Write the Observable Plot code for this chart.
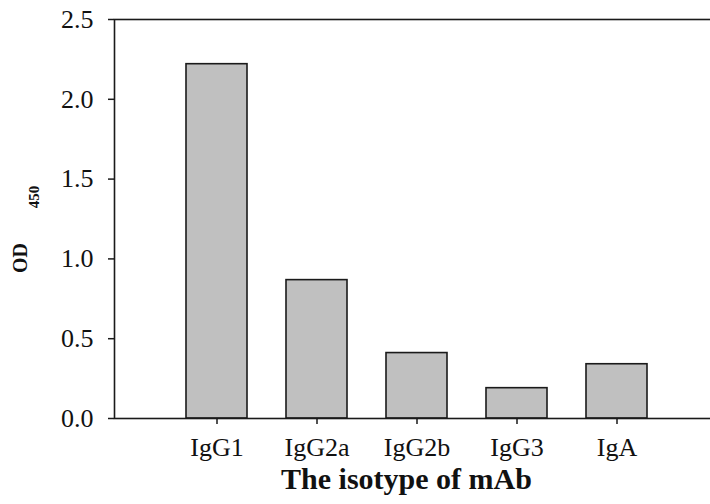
<!DOCTYPE html>
<html>
<head>
<meta charset="utf-8">
<script src="https://cdn.jsdelivr.net/npm/d3@7"></script>
<script src="https://cdn.jsdelivr.net/npm/@observablehq/plot@0.6"></script>
<style>
  html, body { margin: 0; padding: 0; background: #fff; overflow: hidden; }
  #chart svg { overflow: hidden; display: block; }
</style>
</head>
<body>
<div id="chart"></div>
<script>
const isotypes = ["IgG1", "IgG2a", "IgG2b", "IgG3", "IgA"];
const od450 = [2.22, 0.867, 0.41, 0.19, 0.34];
const yTicks = [0, 0.5, 1.0, 1.5, 2.0, 2.5];
const xTitle = "The isotype of mAb";
const yTitleMain = "OD";
const yTitleSub = "450";

const data = isotypes.map((k, i) => ({isotype: k, value: od450[i]}));
const font = "'Liberation Serif', 'Times New Roman', serif";

const chart = Plot.plot({
  width: 710,
  height: 504,
  marginLeft: 114,
  marginRight: 0,
  marginTop: 19,
  marginBottom: 86,
  style: {fontFamily: font, fontSize: "26px", color: "#111", background: "#fff", overflow: "hidden"},
  x: {type: "band", domain: isotypes, range: [134.75, 697.5], paddingInner: 0.39, paddingOuter: 0.5, label: null},
  y: {domain: [0, 2.5], label: null},
  marks: [
    Plot.barY(data, {x: "isotype", y: "value", fill: "#c0c0c0", stroke: "#1a1a1a", strokeWidth: 1.6}),
    Plot.frame({stroke: "#1a1a1a", strokeWidth: 1.6, insetRight: -4}),
    Plot.axisY({ticks: yTicks, tickFormat: d3.format(".1f"), tickSize: 6, tickPadding: 15, strokeWidth: 1.5, stroke: "#1a1a1a", label: null, fontSize: 26}),
    Plot.axisX({tickSize: 6, tickPadding: 13, strokeWidth: 1.5, stroke: "#1a1a1a", label: null, fontSize: 26}),
    Plot.text([xTitle], {frameAnchor: "bottom", dy: 70, dx: -6, fontWeight: "bold", fontSize: 30, fill: "#111"}),
    Plot.text([yTitleMain], {frameAnchor: "left", textAnchor: "middle", dx: -94, dy: 39, rotate: -90, fontWeight: "bold", fontSize: 20, fill: "#111"}),
    Plot.text([yTitleSub], {frameAnchor: "left", textAnchor: "middle", dx: -80, dy: -22, rotate: -90, fontWeight: "bold", fontSize: 15, fill: "#111"})
  ]
});
document.getElementById("chart").appendChild(chart);
</script>
</body>
</html>
